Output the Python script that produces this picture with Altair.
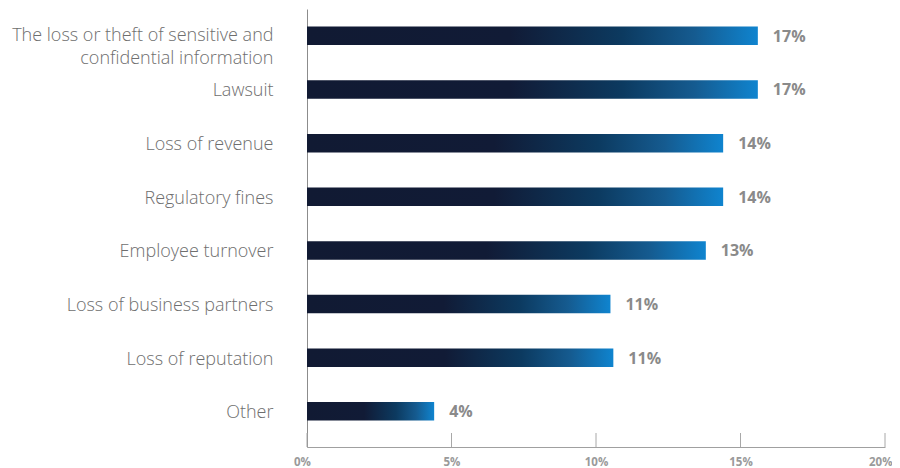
import altair as alt
import pandas as pd

categories = [
    "The loss or theft of sensitive and|confidential information",
    "Lawsuit",
    "Loss of revenue",
    "Regulatory fines",
    "Employee turnover",
    "Loss of business partners",
    "Loss of reputation",
    "Other",
]
bar_values = [15.6, 15.6, 14.4, 14.4, 13.8, 10.5, 10.6, 4.4]
value_labels = ["17%", "17%", "14%", "14%", "13%", "11%", "11%", "4%"]
tick_values = [0, 5, 10, 15, 20]

df = pd.DataFrame({"cat": categories, "val": bar_values, "lab": value_labels})
ticks_df = pd.DataFrame({"t": tick_values})

W, H = 578, 438

gradient = alt.LinearGradient(
    gradient="linear",
    x1=0, y1=0, x2=1, y2=0,
    stops=[
        alt.GradientStop(offset=0, color="#111a33"),
        alt.GradientStop(offset=0.45, color="#111b36"),
        alt.GradientStop(offset=0.7, color="#0c3a60"),
        alt.GradientStop(offset=0.86, color="#155b90"),
        alt.GradientStop(offset=1, color="#0f84cf"),
    ],
)

x_scale = alt.Scale(domain=[0, 20], nice=False, zero=True)
y_scale = alt.Scale(paddingInner=0.655, paddingOuter=0.41, align=0.40)

FONT = "Open Sans"

base = alt.Chart(df).encode(
    y=alt.Y(
        "cat:N",
        sort=categories,
        scale=y_scale,
        title=None,
        axis=alt.Axis(
            labelExpr="split(datum.label, '|')",
            labelFont=FONT,
            labelFontSize=18,
            labelFontWeight=300,
            labelColor="#6e6e6e",
            labelPadding=34,
            labelLimit=400,
            labelBaseline="alphabetic",
            labelOffset={"condition": {"test": "indexof(datum.value, '|') >= 0", "value": 5}, "value": 7},
            labelLineHeight=23,
            ticks=False,
            domainColor="#8c8c8c",
            domainWidth=1,
        ),
    ),
)

bars = base.mark_bar(color=gradient).encode(
    x=alt.X(
        "val:Q",
        scale=x_scale,
        title=None,
        axis=alt.Axis(
            values=tick_values,
            labelExpr="datum.value + '%'",
            labelFont=FONT,
            labelFontWeight="bold",
            labelFontSize=11.5,
            labelColor="#9a9a9a",
            labelPadding=9,
            labelFlush=False,
            labelAlign={"condition": {"test": "datum.value == 20", "value": "right"}, "value": "center"},
            labelOffset={
                "condition": [
                    {"test": "datum.value == 20", "value": 7},
                    {"test": "datum.value == 0", "value": -5},
                ],
                "value": 0,
            },
            ticks=False,
            grid=False,
            domainColor="#a0a0a0",
            domainWidth=1,
        ),
    )
)

texts = base.mark_text(
    align="left", baseline="middle", dx=15, dy=1,
    font=FONT, fontWeight="bold", fontSize=16, color="#8a8a8a",
).encode(x=alt.X("val:Q", scale=x_scale), text="lab:N")

tick_marks = alt.Chart(ticks_df).mark_rule(color="#a8a8a8", strokeWidth=1).encode(
    x=alt.X("t:Q", scale=x_scale),
    y=alt.value(H - 14),
    y2=alt.value(H),
)

chart = (
    alt.layer(bars, texts, tick_marks)
    .properties(
        width=W,
        height=H,
        autosize=alt.AutoSizeParams(type="none"),
        padding={"left": 299, "top": 1, "right": 7, "bottom": 21},
        background="white",
    )
    .configure_view(stroke=None)
)

chart.save("out.html", embed_options={"renderer": "svg", "actions": False})
